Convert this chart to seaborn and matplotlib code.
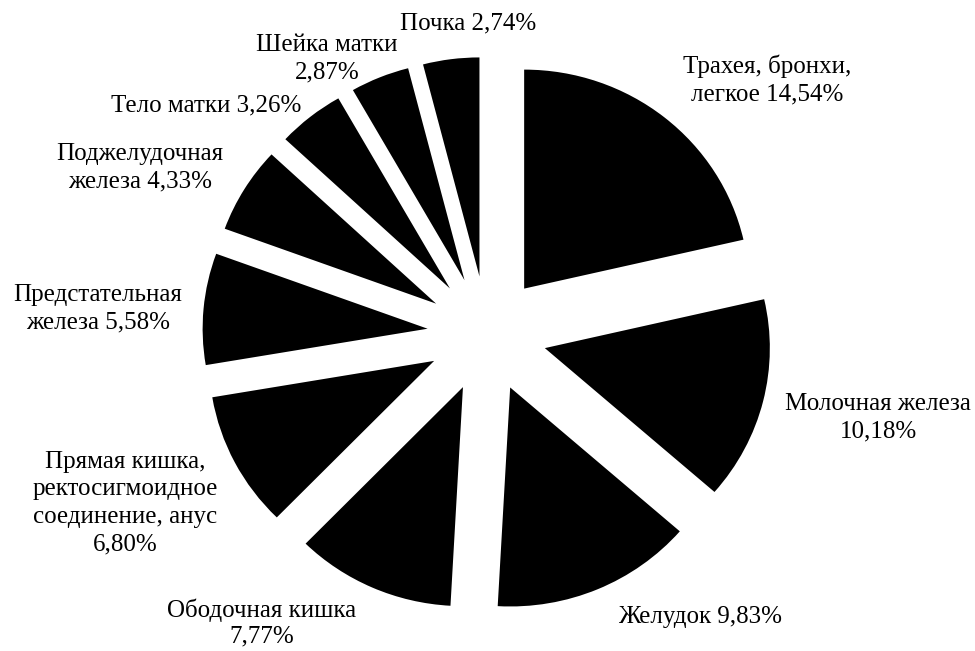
import matplotlib
matplotlib.use("Agg")
import matplotlib.pyplot as plt
import seaborn as sns

sns.set_style("white")
plt.rcParams['font.family'] = ['Liberation Serif', 'DejaVu Serif']

# Data
categories = ["Трахея, бронхи,\nлегкое", "Молочная железа\n", "Желудок", "Ободочная кишка\n",
              "Прямая кишка,\nректосигмоидное\nсоединение, анус\n", "Предстательная\nжелеза",
              "Поджелудочная\nжелеза", "Тело матки", "Шейка матки\n", "Почка"]
values = [14.54, 10.18, 9.83, 7.77, 6.80, 5.58, 4.33, 3.26, 2.87, 2.74]
value_labels = ["14,54%", "10,18%", "9,83%", "7,77%", "6,80%", "5,58%", "4,33%", "3,26%", "2,87%", "2,74%"]

# Layout (label centres in data coords)
label_pos = [(1.244, 1.160), (1.738, -0.384), (0.947, -1.290), (-1.0, -1.318),
             (-1.609, -0.772), (-1.729, 0.114), (-1.542, 0.758), (-1.249, 1.045),
             (-0.711, 1.256), (-0.084, 1.420)]
label_spacing = [1.33, 1.33, 1.33, 1.2, 1.33, 1.33, 1.33, 1.33, 1.33, 1.33]

fig = plt.figure(figsize=(9.75, 6.51), dpi=100)
ax = fig.add_axes([0, 0, 1, 1])
ax.pie(values, startangle=90, counterclock=False, explode=[0.265] * len(values),
       colors=["black"] * len(values), radius=1.0,
       wedgeprops=dict(linewidth=0, antialiased=True))
ax.set_aspect('auto')
cx, cy, sx, sy = 487, 334, 225, 219
ax.set_xlim(-cx / sx, (975 - cx) / sx)
ax.set_ylim((cy - 651) / sy, cy / sy)
ax.axis('off')

for cat, vl, (x, y), ls in zip(categories, value_labels, label_pos, label_spacing):
    sep = "" if cat.endswith("\n") else " "
    ax.text(x, y, cat + sep + vl, ha='center', va='center', multialignment='center',
            fontsize=18, color='black', linespacing=ls)

fig.savefig("out.png", dpi=100, facecolor="white")
